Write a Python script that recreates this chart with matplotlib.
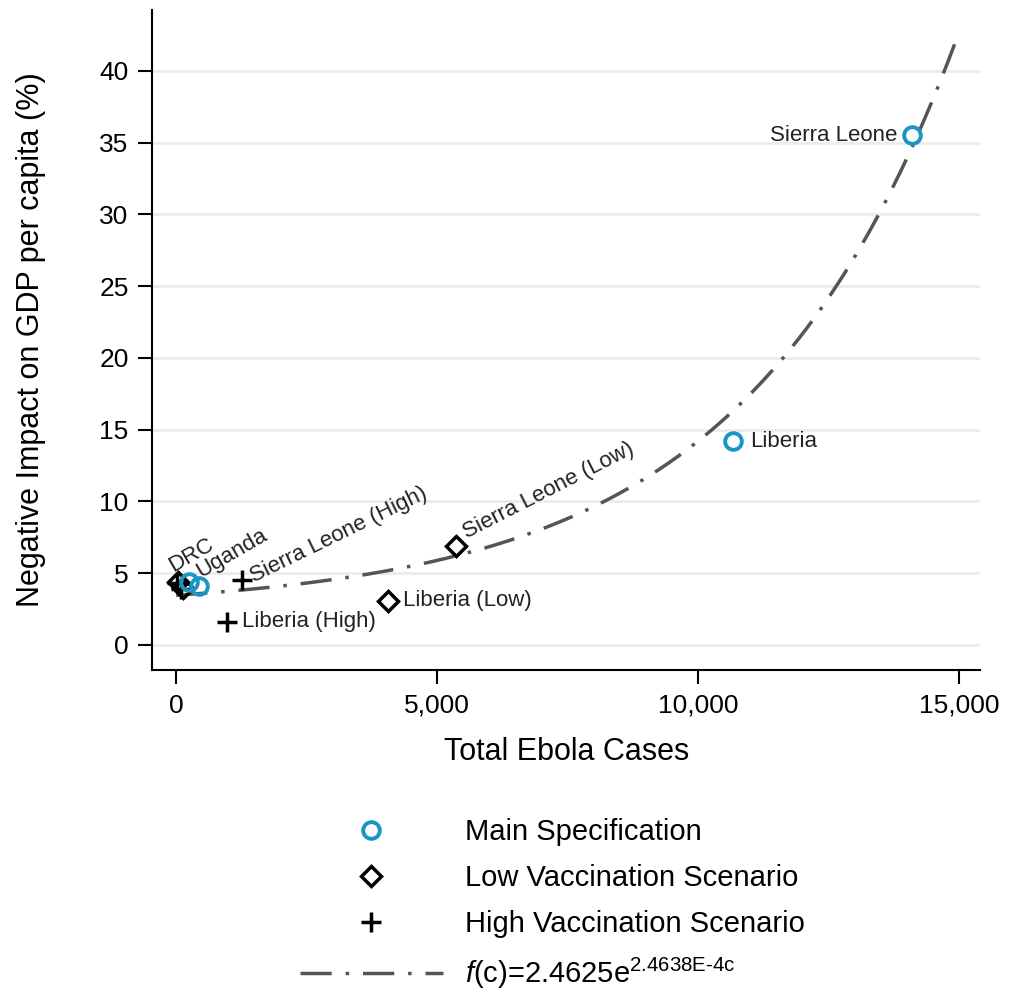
import numpy as np
import matplotlib
matplotlib.use("Agg")
import matplotlib.pyplot as plt
from matplotlib.ticker import FuncFormatter

plt.rcParams['font.family'] = ['Liberation Sans', 'DejaVu Sans']
plt.rcParams['mathtext.fontset'] = 'custom'
plt.rcParams['mathtext.rm'] = 'Liberation Sans'
plt.rcParams['mathtext.it'] = 'Liberation Sans:italic'

# main specification (blue circles)
main_names = ['Sierra Leone', 'Liberia', 'Uganda', 'DRC']
main_cases = [14100, 10670, 446, 255]
main_impact = [35.5, 14.2, 4.1, 4.4]

# low vaccination scenario (diamonds)
low_names = ['Sierra Leone (Low)', 'Liberia (Low)', 'Uganda (Low)', 'DRC (Low)']
low_cases = [5364, 4061, 130, 40]
low_impact = [6.9, 3.07, 4.0, 4.4]

# high vaccination scenario (plus)
high_names = ['Sierra Leone (High)', 'Liberia (High)', 'Uganda (High)', 'DRC (High)']
high_cases = [1264, 977, 90, 25]
high_impact = [4.5, 1.6, 3.9, 4.3]

# fitted curve parameters
fit_a = 2.4625
fit_b = 2.4638e-4

blue = '#1b96c4'

fig = plt.figure(figsize=(10.21, 9.91), dpi=100)
ax = fig.add_axes([0.149, 0.324, 0.811, 0.666])

cc = np.linspace(0, 15000, 400)
ax.plot(cc, fit_a + np.exp(fit_b * cc), color='#555555', lw=2.5,
        dashes=(9, 4, 1, 4), zorder=2,
        label='$\\it{f}$(c)=2.4625e$^{\\rm 2.4638E\u20104c}$')

ax.plot(main_cases, main_impact, 'o', ms=12, mfc='none', mec=blue, mew=2.8,
        zorder=4, label='Main Specification')
ax.plot(low_cases, low_impact, 'D', ms=10, mfc='none', mec='black', mew=2.5,
        zorder=3, label='Low Vaccination Scenario')
ax.plot(high_cases, high_impact, '+', ms=14, mec='black', mew=2.5,
        zorder=3, label='High Vaccination Scenario')

lab = dict(fontsize=16, color='#222222')
ax.annotate('Sierra Leone', (main_cases[0], main_impact[0]), xytext=(-11, 0),
            textcoords='offset points', ha='right', va='center', **lab)
ax.annotate('Liberia', (main_cases[1], main_impact[1]), xytext=(12, 0),
            textcoords='offset points', ha='left', va='center', **lab)
ax.annotate('Uganda', (main_cases[2], main_impact[2]), xytext=(3, 3),
            textcoords='offset points', ha='left', va='bottom',
            rotation=30, rotation_mode='anchor', **lab)
ax.annotate('DRC', (main_cases[3], main_impact[3]), xytext=(-10, 4),
            textcoords='offset points', ha='left', va='bottom',
            rotation=30, rotation_mode='anchor', **lab)
ax.annotate('Sierra Leone (Low)', (low_cases[0], low_impact[0]), xytext=(9, 2),
            textcoords='offset points', ha='left', va='bottom',
            rotation=27, rotation_mode='anchor', **lab)
ax.annotate('Liberia (Low)', (low_cases[1], low_impact[1]), xytext=(11, 0),
            textcoords='offset points', ha='left', va='center', **lab)
ax.annotate('Sierra Leone (High)', (high_cases[0], high_impact[0]), xytext=(10, -5),
            textcoords='offset points', ha='left', va='bottom',
            rotation=26, rotation_mode='anchor', **lab)
ax.annotate('Liberia (High)', (high_cases[1], high_impact[1]), xytext=(11, 0),
            textcoords='offset points', ha='left', va='center', **lab)

ax.set_xlim(-460, 15400)
ax.set_ylim(-1.74, 44.25)
ax.set_xticks([0, 5000, 10000, 15000])
ax.set_yticks(range(0, 45, 5))
ax.xaxis.set_major_formatter(FuncFormatter(lambda v, p: f'{int(v):,}'))
ax.tick_params(labelsize=19, length=10, width=1.5, direction='out',
               colors='black', pad=7)
ax.grid(axis='y', color='#ebebeb', lw=2)
ax.set_axisbelow(True)
for s in ['top', 'right']:
    ax.spines[s].set_visible(False)
for s in ['left', 'bottom']:
    ax.spines[s].set_linewidth(1.5)

ax.set_xlabel('Total Ebola Cases', fontsize=22, labelpad=14)
ax.set_ylabel('Negative Impact on GDP per capita (%)', fontsize=22, labelpad=38)

h, l = ax.get_legend_handles_labels()
order = [1, 2, 3, 0]
fig.legend([h[i] for i in order], [l[i] for i in order],
           loc='upper left', bbox_to_anchor=(300 / 1021, 1 - 818 / 991),
           frameon=False, fontsize=21, handlelength=4.9, handletextpad=0.75,
           labelspacing=0.62, borderpad=0, borderaxespad=0)

fig.savefig('out.png', dpi=100)
